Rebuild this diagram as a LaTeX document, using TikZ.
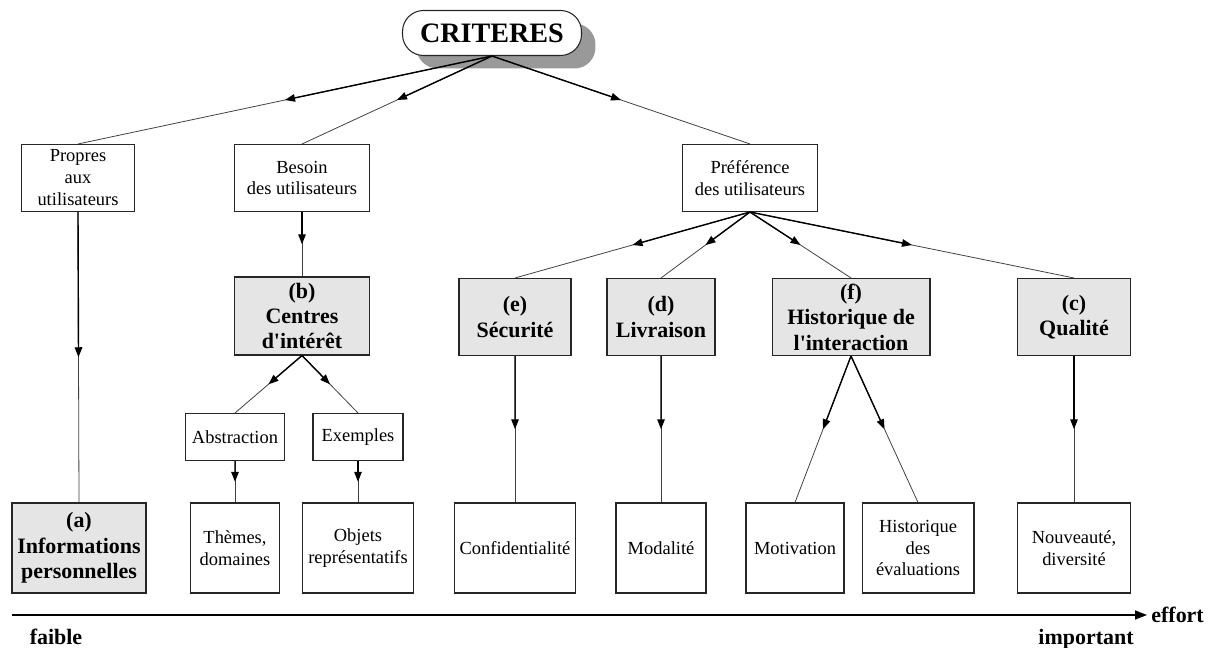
\documentclass[tikz,border=0pt]{standalone}
\usepackage{fontspec}
\setmainfont{Liberation Serif}[Ligatures=TeXOff]
\usetikzlibrary{positioning, arrows.meta, calc, shadows}

\tikzset{
  box/.style={draw=black!85, line width=0.6pt, fill=white, inner sep=1pt, align=center,
    font=\fontsize{10.5}{12.5}\selectfont},
  keybox/.style={box, fill=black!10, font=\fontsize{12.5}{14.5}\selectfont\bfseries},
  leaf/.style={box, minimum height=1.8cm},
  root/.style={draw=black!85, line width=0.6pt, fill=white, rounded corners=0.42cm,
    minimum width=3.58cm, minimum height=0.9cm, inner sep=1pt,
    font=\fontsize{16}{18}\selectfont\bfseries,
    drop shadow={shadow xshift=0.28cm, shadow yshift=-0.26cm, fill=black!40, opacity=1}},
  lowhalf/.style={draw=black!75, line width=0.45pt},
  uphalf/.style={draw=black, line width=0.8pt, -{Triangle[length=2mm,width=1.5mm]}},
  axis/.style={draw=black, line width=0.8pt, -{Triangle[length=2.4mm,width=1.8mm]}},
  lbl/.style={inner sep=0pt, font=\fontsize{12.5}{14.5}\selectfont\bfseries}
}

\begin{document}
\begin{tikzpicture}[x=0.02cm, y=-0.02cm]
\useasboundingbox (0,0) rectangle (1212,648);

% racine
\node[root] (crit) at (492,33) {CRITERES};

% premier niveau
\node[box, minimum width=2.26cm, minimum height=1.34cm] (propres) at (78,178) {Propres\\aux\\utilisateurs};
\node[box, minimum width=2.7cm, minimum height=1.34cm] (besoin) at (302,178) {Besoin\\des utilisateurs};
\node[box, minimum width=2.7cm, minimum height=1.34cm] (pref) at (750,178) {Préférence\\des utilisateurs};

% criteres
\node[keybox, minimum width=2.7cm, minimum height=1.56cm] (centres) at (302,316) {(b)\\Centres\\d'intérêt};
\node[keybox, minimum width=2.24cm, minimum height=1.54cm] (secu) at (515,317) {(e)\\Sécurité};
\node[keybox, minimum width=2.16cm, minimum height=1.54cm] (livr) at (661,317) {(d)\\Livraison};
\node[keybox, minimum width=3.16cm, minimum height=1.54cm] (histo) at (851,317) {(f)\\Historique de\\l'interaction};
\node[keybox, minimum width=2.26cm, minimum height=1.54cm] (qual) at (1074,317) {(c)\\Qualité};

\node[box, minimum width=1.98cm, minimum height=0.94cm] (abstr) at (235,437) {Abstraction};
\node[box, minimum width=1.8cm, minimum height=0.94cm] (exem) at (358,437) {Exemples};

% feuilles
\node[keybox, minimum width=2.68cm, minimum height=1.8cm] (infos) at (79,548) {(a)\\Informations\\personnelles};
\node[leaf, minimum width=1.78cm] (themes) at (235,548) {Thèmes,\\domaines};
\node[leaf, minimum width=2.22cm] (objets) at (358,548) {Objets\\représentatifs};
\node[leaf, minimum width=2.42cm] (confid) at (515,548) {Confidentialité};
\node[leaf, minimum width=1.8cm] (modal) at (661,548) {Modalité};
\node[leaf, minimum width=1.96cm] (motiv) at (795,548) {Motivation};
\node[leaf, minimum width=2.24cm] (evals) at (918,548) {Historique\\des\\évaluations};
\node[leaf, minimum width=2.26cm] (nouv) at (1074,548) {Nouveauté,\\diversité};

% liens
\foreach \a/\b in {crit/propres, crit/besoin, crit/pref, propres/infos, besoin/centres,
    centres/abstr, centres/exem, abstr/themes, exem/objets,
    pref/secu, pref/livr, pref/histo, pref/qual,
    secu/confid, livr/modal, histo/motiv, histo/evals, qual/nouv}
{
  \draw[lowhalf] (\a.south) -- (\b.north);
  \draw[uphalf] (\a.south) -- ($(\a.south)!0.5!(\b.north)$);
}

% axe d'effort
\coordinate (ax0) at (12,615);
\coordinate (ax1) at (1147,615);
\draw[axis] (ax0) -- (ax1);
\node[lbl, right=0.08cm of ax1] (effort) {effort};
\node[lbl, anchor=base] (faible) at (56,644) {faible};
\node[lbl, anchor=base] (important) at (1086,644) {important};
\end{tikzpicture}
\end{document}
